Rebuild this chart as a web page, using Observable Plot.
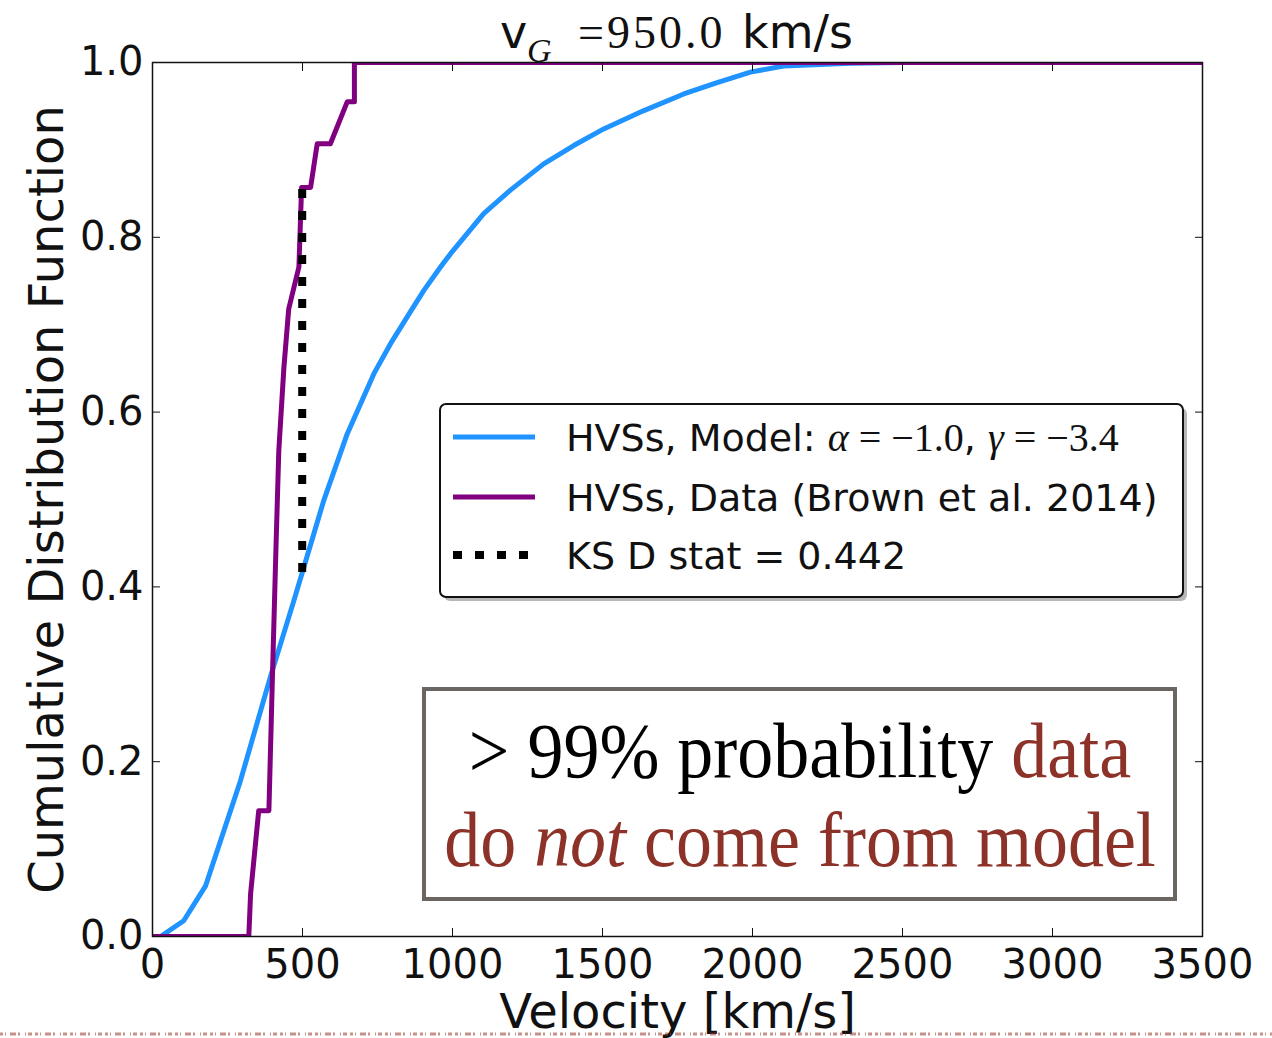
<!DOCTYPE html>
<html><head><meta charset="utf-8">
<script src="https://cdn.jsdelivr.net/npm/d3@7"></script>
<script src="https://cdn.jsdelivr.net/npm/@observablehq/plot@0.6"></script>
<style>
html,body{margin:0;padding:0;background:#fff;}
#wrap{position:relative;width:1272px;height:1038px;overflow:hidden;background:#fff;}
#wrap svg{position:absolute;left:0;top:0;}
</style></head><body><div id="wrap"></div>
<script>
// ---- data ----
const modelVelocity = [27, 104, 177, 293, 393, 471, 504, 571, 649, 738, 793, 849, 904, 960, 993, 1104, 1193, 1304, 1404, 1504, 1638, 1771, 1882, 1993, 2104, 2327, 2500, 3500];
const modelCdf      = [0, 0.018, 0.058, 0.178, 0.297, 0.384, 0.422, 0.499, 0.575, 0.644, 0.678, 0.709, 0.739, 0.766, 0.781, 0.827, 0.854, 0.884, 0.905, 0.924, 0.945, 0.964, 0.977, 0.989, 0.996, 0.999, 1.0, 1.0];

const dataVelocity = [0, 321, 327, 354, 388, 400, 412, 421, 438, 454, 488, 497, 527, 549, 593, 649, 673, 673, 3500];
const dataCdf      = [0, 0, 0.049, 0.144, 0.144, 0.30, 0.45, 0.556, 0.651, 0.718, 0.766, 0.857, 0.857, 0.907, 0.907, 0.955, 0.955, 1.0, 1.0];

const ksVelocity = [499, 499];
const ksCdf      = [0.417, 0.859];

const xTicks = [0, 500, 1000, 1500, 2000, 2500, 3000, 3500];
const yTicks = [0, 0.2, 0.4, 0.6, 0.8, 1.0];

const xLabel = "Velocity [km/s]";
const yLabel = "Cumulative Distribution Function";
const legendLabels = ["HVSs, Model: ", "HVSs, Data (Brown et al. 2014)", "KS D stat = 0.442"];
const colors = {model: "#1f93ff", data: "#800080", ks: "#000000", note: "#8c3229"};

// ---- tables built from the arrays ----
const model = modelVelocity.map((v, i) => ({v, c: modelCdf[i]}));
const data  = dataVelocity.map((v, i) => ({v, c: dataCdf[i]}));
const ks    = ksVelocity.map((v, i) => ({v, c: ksCdf[i]}));

const W = 1272, H = 1038;
const chart = Plot.plot({
  width: W, height: H,
  marginLeft: 152, marginRight: 70, marginTop: 62, marginBottom: 102,
  style: {fontFamily: "DejaVu Sans", background: "white", color: "#111", overflow: "visible"},
  x: {domain: [0, 3500]},
  y: {domain: [0, 1]},
  marks: [
    Plot.line(model, {x: "v", y: "c", stroke: colors.model, strokeWidth: 5, strokeLinejoin: "round", clip: true}),
    Plot.line(data,  {x: "v", y: "c", stroke: colors.data, strokeWidth: 5, clip: true}),
    Plot.line(ks,    {x: "v", y: "c", stroke: colors.ks, strokeWidth: 8, strokeDasharray: "9,13", strokeLinecap: "butt", clip: true}),
    Plot.axisX({anchor: "bottom", ticks: xTicks, tickSize: -8, tickPadding: 21, fontSize: 40, label: null, tickFormat: d => String(d)}),
    Plot.axisX({anchor: "top", ticks: xTicks, tickSize: -8, tickFormat: () => "", label: null}),
    Plot.axisY({anchor: "left", ticks: yTicks, tickSize: -8, tickPadding: 17, fontSize: 40, label: null, tickFormat: d => d.toFixed(1)}),
    Plot.axisY({anchor: "right", ticks: yTicks, tickSize: -8, tickFormat: () => "", label: null}),
    Plot.frame({stroke: "#111", strokeWidth: 1.5}),
    Plot.text([yLabel], {frameAnchor: "left", rotate: -90, dx: -105, fontSize: 48, textAnchor: "middle", lineAnchor: "middle", text: d => d}),
    Plot.text([xLabel], {frameAnchor: "bottom", dy: 76, fontSize: 48, textAnchor: "middle", lineAnchor: "middle", text: d => d})
  ]
});
const wrap = document.getElementById("wrap");
wrap.appendChild(chart);

// ---- overlay: title, legend, annotation ----
const ov = d3.select(wrap).append("svg").attr("width", W).attr("height", H)
  .style("pointer-events", "none");

// title
const t = ov.append("text").attr("y", 48).attr("fill", "#111");
t.append("tspan").attr("x", 500).attr("font-family", "DejaVu Sans").attr("font-size", 46).text("v");
t.append("tspan").attr("x", 527).attr("y", 62).attr("font-family", "Liberation Serif").attr("font-style", "italic").attr("font-size", 34).text("G");
t.append("tspan").attr("x", 578).attr("y", 48).attr("font-family", "Liberation Serif").attr("font-size", 46).attr("letter-spacing", 3).text("=950.0");
t.append("tspan").attr("x", 742).attr("font-family", "DejaVu Sans").attr("font-size", 46).text("km/s");

// legend
const lg = ov.append("g");
lg.append("rect").attr("x", 444).attr("y", 408).attr("width", 743).attr("height", 193).attr("rx", 6).attr("fill", "#999").attr("opacity", 0.7);
lg.append("rect").attr("x", 440).attr("y", 404).attr("width", 743).attr("height", 193).attr("rx", 6).attr("fill", "#fff").attr("stroke", "#111").attr("stroke-width", 2);
const rows = [
  {y: 437, stroke: colors.model, dash: null, w: 5},
  {y: 497, stroke: colors.data, dash: null, w: 5},
  {y: 555, stroke: colors.ks, dash: "9,13", w: 8}
];
rows.forEach((r, i) => {
  lg.append("line").attr("x1", 453).attr("x2", 535).attr("y1", r.y).attr("y2", r.y)
    .attr("stroke", r.stroke).attr("stroke-width", r.w).attr("stroke-dasharray", r.dash);
  const tx = lg.append("text").attr("x", 566).attr("y", r.y + 14).attr("font-family", "DejaVu Sans").attr("font-size", 38).attr("fill", "#111");
  tx.append("tspan").text(legendLabels[i]);
  if (i === 0) {
    const ser = () => tx.append("tspan").attr("font-family", "Liberation Serif").attr("font-size", 40);
    ser().attr("font-style", "italic").text("α");
    ser().text(" = −1.0");
    tx.append("tspan").text(", ");
    ser().attr("font-style", "italic").text("γ");
    ser().text(" = −3.4");
  }
});

// annotation box
const an = ov.append("g");
an.append("rect").attr("x", 424).attr("y", 689).attr("width", 751).attr("height", 210)
  .attr("fill", "#fff").attr("stroke", "#6b6661").attr("stroke-width", 4);
const l1 = an.append("text").attr("transform", "translate(800,777) scale(1,1.1)")
  .attr("text-anchor", "middle").attr("font-family", "Liberation Serif").attr("font-size", 72);
l1.append("tspan").attr("fill", "#000").text("> 99% probability ");
l1.append("tspan").attr("fill", colors.note).text("data");
const l2 = an.append("text").attr("transform", "translate(800,866) scale(1,1.1)")
  .attr("text-anchor", "middle").attr("font-family", "Liberation Serif").attr("font-size", 72).attr("fill", colors.note);
l2.append("tspan").text("do ");
l2.append("tspan").attr("font-style", "italic").text("not");
l2.append("tspan").text(" come from model");

// faint slide-edge speckle at the very bottom
ov.append("line").attr("x1", 0).attr("x2", W).attr("y1", 1034).attr("y2", 1034)
  .attr("stroke", "#9a3a2e").attr("stroke-width", 3).attr("opacity", 0.55)
  .attr("stroke-dasharray", "3,2,1,4,6,2,2,5,1,2,4,3");
</script></body></html>
